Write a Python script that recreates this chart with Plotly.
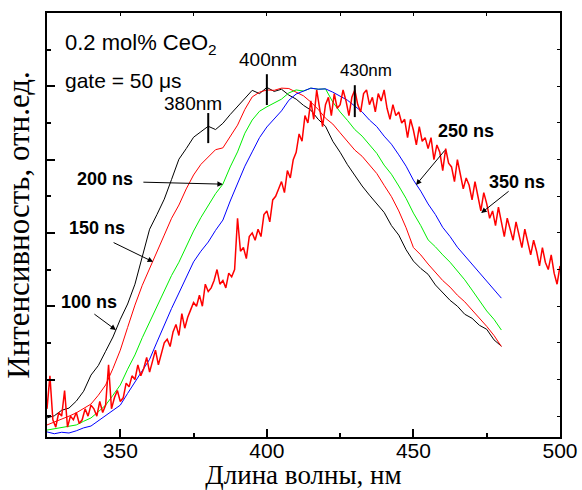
import plotly.graph_objects as go

# Wavelength grids (nm)
wl_fine = list(range(325, 501))                      # 1 nm step, 350 ns spectrum
wl = [325 + 2.5 * i for i in range(63)]              # 2.5 nm step, 325..480 nm

# Normalized luminescence intensity, 0.2 mol% CeO2, gate = 50 us
i_100ns = [0.095, 0.101, 0.116, 0.122, 0.141, 0.168, 0.212, 0.238, 0.277, 0.316,
           0.364, 0.406, 0.460, 0.533, 0.610, 0.650, 0.692, 0.746, 0.801, 0.830,
           0.861, 0.876, 0.891, 0.882, 0.899, 0.923, 0.946, 0.966, 0.989, 0.980,
           0.997, 0.986, 0.992, 0.976, 0.965, 0.948, 0.935, 0.910, 0.891, 0.850,
           0.820, 0.786, 0.757, 0.728, 0.703, 0.678, 0.656, 0.620, 0.594, 0.554,
           0.523, 0.503, 0.487, 0.458, 0.438, 0.416, 0.400, 0.378, 0.367, 0.348,
           0.337, 0.308, 0.291]
i_150ns = [0.076, 0.084, 0.090, 0.100, 0.109, 0.122, 0.133, 0.157, 0.185, 0.230,
           0.280, 0.342, 0.403, 0.457, 0.504, 0.552, 0.594, 0.640, 0.676, 0.720,
           0.758, 0.787, 0.807, 0.827, 0.832, 0.864, 0.894, 0.937, 0.971, 0.984,
           0.990, 0.989, 0.995, 0.994, 0.984, 0.974, 0.957, 0.937, 0.913, 0.897,
           0.873, 0.850, 0.826, 0.809, 0.785, 0.762, 0.730, 0.699, 0.660, 0.614,
           0.560, 0.540, 0.515, 0.494, 0.470, 0.452, 0.430, 0.412, 0.390, 0.370,
           0.345, 0.320, 0.290]
i_200ns = [0.062, 0.066, 0.068, 0.073, 0.076, 0.086, 0.095, 0.112, 0.130, 0.157,
           0.185, 0.228, 0.267, 0.314, 0.357, 0.402, 0.444, 0.484, 0.520, 0.564,
           0.605, 0.642, 0.676, 0.707, 0.733, 0.780, 0.821, 0.872, 0.908, 0.932,
           0.944, 0.954, 0.965, 0.982, 0.990, 0.987, 0.995, 0.992, 0.993, 0.957,
           0.930, 0.907, 0.882, 0.864, 0.840, 0.817, 0.785, 0.760, 0.728, 0.694,
           0.654, 0.620, 0.581, 0.562, 0.540, 0.520, 0.496, 0.472, 0.444, 0.417,
           0.387, 0.364, 0.335]
i_250ns = [0.057, 0.052, 0.056, 0.054, 0.060, 0.068, 0.073, 0.087, 0.100, 0.115,
           0.130, 0.162, 0.193, 0.224, 0.255, 0.302, 0.349, 0.394, 0.436, 0.480,
           0.521, 0.550, 0.575, 0.607, 0.635, 0.687, 0.736, 0.782, 0.821, 0.860,
           0.889, 0.912, 0.933, 0.962, 0.979, 0.987, 0.995, 0.992, 0.993, 0.984,
           0.974, 0.962, 0.946, 0.930, 0.908, 0.890, 0.864, 0.842, 0.813, 0.782,
           0.744, 0.714, 0.679, 0.650, 0.615, 0.590, 0.561, 0.538, 0.512, 0.492,
           0.466, 0.446, 0.422]
i_350ns = [0.12, 0.21, 0.09, 0.07, 0.11, 0.10, 0.17, 0.07, 0.10, 0.09,
           0.11, 0.08, 0.09, 0.12, 0.10, 0.13, 0.12, 0.10, 0.14, 0.11,
           0.13, 0.24, 0.12, 0.15, 0.17, 0.14, 0.15, 0.19, 0.18, 0.21,
           0.20, 0.24, 0.21, 0.23, 0.26, 0.22, 0.25, 0.28, 0.24, 0.27,
           0.30, 0.31, 0.29, 0.33, 0.35, 0.32, 0.38, 0.34, 0.37, 0.39,
           0.41, 0.40, 0.43, 0.40, 0.46, 0.44, 0.45, 0.47, 0.50, 0.46,
           0.47, 0.45, 0.49, 0.48, 0.50, 0.64, 0.55, 0.56, 0.53, 0.59,
           0.60, 0.58, 0.61, 0.59, 0.65, 0.66, 0.63, 0.69, 0.70, 0.72,
           0.74, 0.71, 0.77, 0.75, 0.80, 0.82, 0.87, 0.85, 0.92, 0.90,
           0.96, 0.91, 0.99, 0.94, 0.89, 0.95, 0.97, 0.92, 0.98, 0.94,
           0.95, 0.99, 0.96, 0.92, 0.97, 0.99, 0.95, 0.93, 0.98, 0.99,
           0.95, 0.97, 0.93, 0.98, 0.96, 0.99, 0.94, 0.91, 0.95, 0.92,
           0.93, 0.90, 0.91, 0.86, 0.91, 0.88, 0.84, 0.89, 0.85, 0.86,
           0.83, 0.86, 0.80, 0.84, 0.82, 0.77, 0.83, 0.79, 0.78, 0.74,
           0.80, 0.76, 0.72, 0.75, 0.73, 0.69, 0.74, 0.70, 0.66, 0.71,
           0.68, 0.64, 0.66, 0.62, 0.67, 0.63, 0.59, 0.64, 0.61, 0.58,
           0.63, 0.59, 0.56, 0.61, 0.57, 0.54, 0.58, 0.55, 0.51, 0.56,
           0.52, 0.50, 0.54, 0.49, 0.46, 0.51, 0.48, 0.45, 0.49, 0.46,
           0.45]

# Peak markers: wavelength and vertical extent of the tick drawn on the curves
peak_nm = [380, 400, 430]
peak_lo = [0.845, 0.949, 0.916]
peak_hi = [0.927, 1.033, 1.003]
peak_label_y = [0.954, 1.072, 1.044]
peak_label_x = [374.8, 400.4, 433.8]
peak_label_size = [19, 19, 17]

# Delay labels: text, arrow head (nm, intensity), arrow tail offset (px), text position
delay_text = ["100 ns", "150 ns", "200 ns", "250 ns", "350 ns"]
delay_head = [(348.5, 0.335), (361.2, 0.521), (385.0, 0.733), (450.9, 0.731), (473.1, 0.654)]
delay_tail = [(-23, -17), (-41, -20), (-81, -2), (30, -36), (29, -23)]
delay_pos = [(339.3, 0.411), (342.1, 0.613), (344.8, 0.747), (468.0, 0.878), (485.3, 0.739)]

SANS = "Liberation Sans, Arial, sans-serif"
SERIF = "Liberation Serif, Times New Roman, serif"

fig = go.Figure()
series = [
    (wl, i_100ns, "#000000", 1.0),
    (wl, i_150ns, "#ff0000", 1.0),
    (wl, i_200ns, "#00ee00", 1.0),
    (wl, i_250ns, "#0000ff", 1.0),
    (wl_fine, i_350ns, "#ff0000", 1.5),
]
for x, y, c, w in series:
    fig.add_trace(go.Scatter(x=x, y=y, mode="lines", line=dict(color=c, width=w),
                             showlegend=False, hoverinfo="skip"))

# Empty trace so the top/right tick-only axes are rendered
fig.add_trace(go.Scatter(x=[], y=[], xaxis="x2", yaxis="y2", showlegend=False))

XR = [325, 500]
YR = [0.0431, 1.2]

for nm, lo, hi in zip(peak_nm, peak_lo, peak_hi):
    fig.add_shape(type="line", x0=nm, x1=nm, y0=lo, y1=hi, xref="x", yref="y",
                  line=dict(color="black", width=2))

ann = []
for tx, ty, nm, sz in zip(peak_label_x, peak_label_y, peak_nm, peak_label_size):
    ann.append(dict(x=tx, y=ty, xref="x", yref="y", text=f"{nm}nm", showarrow=False,
                    font=dict(family=SANS, size=sz, color="black")))

for txt, (hx, hy), (ox, oy), (px, py) in zip(delay_text, delay_head, delay_tail, delay_pos):
    ann.append(dict(x=hx, y=hy, xref="x", yref="y", ax=ox, ay=oy, text="",
                    showarrow=True, arrowhead=2, arrowsize=1.1, arrowwidth=1,
                    arrowcolor="black", standoff=0))
    ann.append(dict(x=px, y=py, xref="x", yref="y", text=f"<b>{txt}</b>",
                    showarrow=False, font=dict(family=SANS, size=18, color="black")))

ann.append(dict(x=0.031, y=0.965, xref="paper", yref="paper", xanchor="left",
                text="0.2 mol% CeO<sub>2</sub>", showarrow=False,
                font=dict(family=SANS, size=22, color="black")))
ann.append(dict(x=0.031, y=0.873, xref="paper", yref="paper", xanchor="left",
                text="gate = 50 \u03bcs", showarrow=False,
                font=dict(family=SANS, size=21, color="black")))

fig.update_layout(
    width=582, height=490,
    margin=dict(l=47, r=22, t=13, b=53),
    paper_bgcolor="white", plot_bgcolor="white",
    annotations=ann,
    xaxis=dict(range=XR, tick0=350, dtick=50, ticks="inside", ticklen=8, tickwidth=1.5,
               tickcolor="black", showline=True, linecolor="black", linewidth=2,
               mirror=True, showgrid=False, zeroline=False, automargin=False,
               ticklabelstandoff=-6,
               tickfont=dict(family=SANS, size=21, color="black"),
               minor=dict(dtick=25, tick0=325, ticks="inside", ticklen=4,
                          tickcolor="black", showgrid=False),
               title=dict(text="Длина волны, нм", standoff=0,
                          font=dict(family=SERIF, size=27, color="black"))),
    yaxis=dict(range=YR, tick0=0, dtick=0.2, ticks="inside", ticklen=8, tickwidth=1.5,
               tickcolor="black", showline=True, linecolor="black", linewidth=2,
               mirror=True, showgrid=False, zeroline=False, showticklabels=False,
               automargin=False,
               minor=dict(dtick=0.1, tick0=0, ticks="inside", ticklen=4,
                          tickcolor="black", showgrid=False),
               title=dict(text="Интенсивность, отн.ед.", standoff=6,
                          font=dict(family=SERIF, size=31, color="black"))),
    xaxis2=dict(range=XR, overlaying="x", side="top", anchor="y2", tick0=350, dtick=50,
                ticks="inside", ticklen=3, tickcolor="black", showticklabels=False,
                showgrid=False, zeroline=False, showline=False, automargin=False,
                minor=dict(dtick=25, tick0=325, ticks="inside", ticklen=3,
                           tickcolor="black", showgrid=False)),
    yaxis2=dict(range=YR, overlaying="y", side="right", anchor="x2", tick0=0, dtick=0.2,
                ticks="inside", ticklen=3, tickcolor="black", showticklabels=False,
                showgrid=False, zeroline=False, showline=False, automargin=False,
                minor=dict(dtick=0.1, tick0=0, ticks="inside", ticklen=3,
                           tickcolor="black", showgrid=False)),
)

fig.write_html("out.html")
